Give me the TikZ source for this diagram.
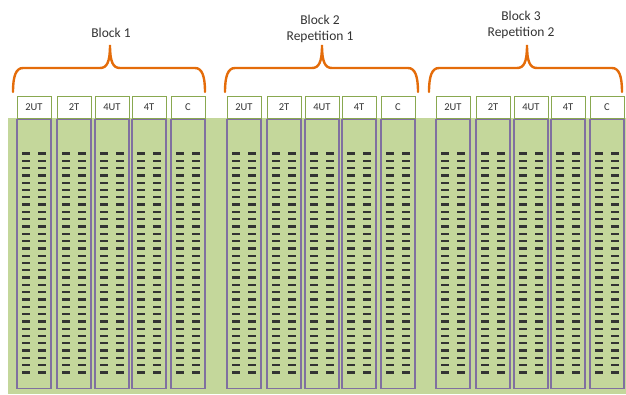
\documentclass[tikz,border=0pt]{standalone}
\usepackage{fontspec}
\setmainfont{Carlito}
\definecolor{plotGreen}{RGB}{196,215,155}
\definecolor{headGreen}{RGB}{137,168,80}
\definecolor{rowPurple}{RGB}{128,112,160}
\definecolor{braceOrange}{RGB}{228,108,10}
\usepackage{tikz}
\usetikzlibrary{positioning}

% curly brace over one block: left end, right end, tip
\newcommand{\blockbrace}[3]{%
  \draw[brace] (#1,92) .. controls (#1,76) and (#1+3,68) .. (#1+10,68) -- (#3-10,68)
    .. controls (#3-3,68) and (#3,62) .. (#3,45)
    .. controls (#3,62) and (#3+3,68) .. (#3+10,68) -- (#2-10,68)
    .. controls (#2-3,68) and (#2,76) .. (#2,92);}

\begin{document}
\begin{tikzpicture}[x=1pt, y=-1pt,
  head/.style={rectangle, draw=headGreen, line width=1pt, fill=white,
               minimum width=34pt, minimum height=22pt, inner sep=0pt,
               font=\fontsize{10.5}{12}\selectfont, text=black!80},
  plot/.style={rectangle, draw=rowPurple, line width=1.3pt,
               minimum width=34pt, minimum height=269pt, inner sep=0pt},
  seedling/.style={line width=2.3pt, black!80},
  brace/.style={line width=2.4pt, braceOrange, line cap=round},
  blocklabel/.style={align=center, font=\fontsize{13.5}{16}\selectfont, text=black!80},
]
  \useasboundingbox (0,0) rectangle (626,394);
  \fill[plotGreen] (8,118) rectangle (626,394);

  \foreach \b/\x in {1/17,2/227,3/436}
    \foreach \t/\dx [count=\i] in {2UT/0,2T/40,4UT/78,4T/115,C/154} {
      \node[head] (h\b\i) at (\x+\dx+17,107) {\t};
      \node[plot, below=0pt of h\b\i] (p\b\i) {};
      \foreach \r in {0,...,30} {
        \draw[seedling] ([xshift=-12pt]p\b\i.north) ++(0,35+7.3*\r) -- ++(8,0);
        \draw[seedling] ([xshift=4pt]p\b\i.north) ++(0,35+7.3*\r) -- ++(8,0);
      }
    }

  \node[blocklabel] (b1) at (111,33) {Block 1};
  \node[blocklabel] (b2) at (320,28.5) {Block 2\\Repetition 1};
  \node[blocklabel] (b3) at (521,25) {Block 3\\Repetition 2};

  \blockbrace{13}{205}{110}
  \blockbrace{225}{418}{322}
  \blockbrace{429}{622}{527}
\end{tikzpicture}
\end{document}
